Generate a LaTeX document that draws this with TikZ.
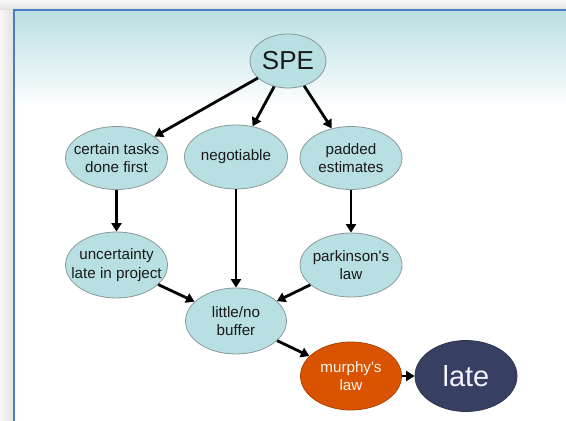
\documentclass[tikz,border=0pt]{standalone}
\usepackage{fontspec}
\setmainfont{Liberation Sans}
\usetikzlibrary{shapes.geometric,arrows.meta}
\definecolor{bubblefill}{HTML}{B8DFE2}
\definecolor{ringgray}{HTML}{8A9A9C}
\definecolor{murphyfill}{HTML}{DA5300}
\definecolor{latefill}{HTML}{373F63}
\definecolor{framblue}{HTML}{4A7DC6}
\definecolor{topteal}{HTML}{B9DEE2}
\definecolor{inktext}{HTML}{1A1A1A}
\begin{document}
\begin{tikzpicture}[x=1pt,y=-1pt,
  bubble/.style={ellipse, draw=ringgray, line width=0.8pt, fill=bubblefill,
    inner xsep=-22pt, inner ysep=-12pt, align=center, text=inktext,
    font=\fontsize{15.2}{18.5}\selectfont},
  arr/.style={-{Triangle[length=8.5pt,width=10pt]}, line width=2.8pt, black}]
  \useasboundingbox (0,0) rectangle (566,421);
  % slide surround and soft shadow
  \fill[black!5] (0,0) rectangle (566,421);
  \shade[left color=black!3, right color=black!11] (0,0) rectangle (13,421);
  \shade[top color=black!3, bottom color=black!11] (0,0) rectangle (566,9);
  % slide body with teal header gradient
  \fill[white] (13,9) rectangle (566,421);
  \shade[top color=topteal, bottom color=white] (13,9) rectangle (566,108);
  \draw[framblue, line width=2pt] (14,421) -- (14,10) -- (566,10);

  % nodes
  \node[bubble, minimum width=76pt, minimum height=54pt,
        font=\fontsize{26}{28}\selectfont] (spe) at (288,61) {SPE};
  \node[bubble, minimum width=102pt, minimum height=63pt] (first) at (116.5,158) {certain tasks\\done first};
  \node[bubble, minimum width=103pt, minimum height=64pt] (neg) at (236,157) {negotiable};
  \node[bubble, minimum width=102pt, minimum height=63pt] (pad) at (351,158) {padded\\estimates};
  \node[bubble, minimum width=102pt, minimum height=66pt] (unc) at (116.5,265) {uncertainty\\late in project};
  \node[bubble, minimum width=102pt, minimum height=64pt] (park) at (351,265) {parkinson\textquotesingle s\\law};
  \node[bubble, minimum width=101pt, minimum height=66pt] (buf) at (236,321) {little/no\\buffer};
  \node[bubble, fill=murphyfill, draw=murphyfill!80!black, text=white!92!orange,
        minimum width=101pt, minimum height=68pt] (mur) at (351,376) {murphy\textquotesingle s\\law};
  \node[bubble, fill=latefill, draw=latefill!80!black, text=white!95!blue,
        minimum width=102pt, minimum height=71pt,
        font=\fontsize{29}{32}\selectfont] (late) at (466,376) {late};

  % connectors
  \draw[arr] (spe) -- (first);
  \draw[arr] (spe) -- (neg);
  \draw[arr] (spe) -- (pad);
  \draw[arr] (first) -- (unc);
  \draw[arr] (neg) -- (buf);
  \draw[arr] (pad) -- (park);
  \draw[arr] (unc) -- (buf);
  \draw[arr] (park) -- (buf);
  \draw[arr] (buf) -- (mur);
  \draw[arr] (mur) -- (late);
\end{tikzpicture}
\end{document}
